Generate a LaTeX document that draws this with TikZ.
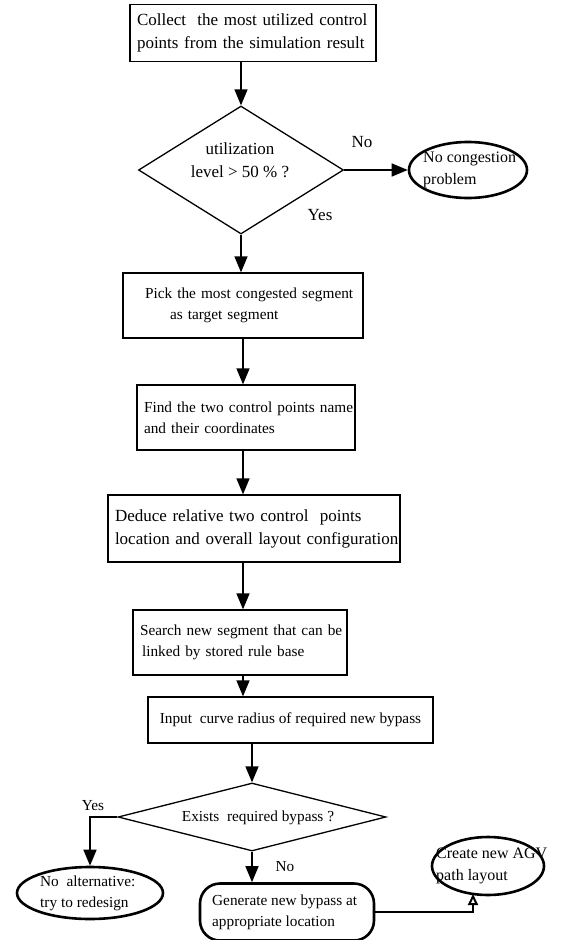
\documentclass[tikz,border=0pt]{standalone}
\usepackage{fontspec}
\setmainfont{Liberation Serif}
\usetikzlibrary{shapes.geometric,arrows.meta}
\begin{document}
\begin{tikzpicture}[x=1pt,y=-1pt,
  every node/.style={font=\fontsize{15.3}{21}\selectfont},
  big/.style={font=\fontsize{17}{23}\selectfont},
  mid/.style={font=\fontsize{16}{22}\selectfont},
  box/.style={draw, line width=1.3pt, inner xsep=7pt, inner ysep=0pt, align=left},
  dia/.style={draw, diamond, line width=1.3pt, inner sep=0pt},
  oval/.style={draw, ellipse, line width=2.6pt, inner sep=0pt},
  rbox/.style={draw, rounded corners=20pt, line width=2.6pt, inner sep=0pt},
  txt/.style={inner sep=0pt, align=left},
  arr/.style={line width=1.5pt, -{Triangle[length=16pt,width=13pt]}},
  oarr/.style={line width=1.5pt, -{Triangle[open,length=11pt,width=10pt,line width=2pt]}},
  lbl/.style={inner sep=0pt}
]
\useasboundingbox (0,0) rectangle (570,940);

% process boxes
\node[box, big, minimum width=246pt, minimum height=57pt, text width=232pt] (b1) at (253,33)
  {\mbox{Collect\ \ the most utilized control}\\\mbox{points from the simulation result}};
\node[dia, minimum width=205pt, minimum height=128pt] (d1) at (241,170) {};
\node[txt, big, align=center] (d1t) at (240,160) {utilization\\level > 50 \% ?};
\node[oval, minimum width=118pt, minimum height=56pt] (e1) at (468,170) {};
\node[txt, mid, anchor=west] (e1t) at (423,170) {No congestion\\problem};

\node[box, minimum width=240pt, minimum height=65pt, text width=226pt] (b2) at (243,305.5)
  {\mbox{\hspace*{15pt}Pick the most congested segment}\\\mbox{\hspace*{40pt}as target segment}};
\node[box, minimum width=218pt, minimum height=65pt, text width=204pt] (b3) at (246,417.5)
  {\mbox{Find the two control points name}\\\mbox{and their coordinates}};
\node[box, big, minimum width=292pt, minimum height=67pt, text width=278pt] (b4) at (254,528.5)
  {\mbox{Deduce relative two control\ \ points}\\\mbox{location and overall layout configuration}};
\node[box, minimum width=214pt, minimum height=65pt, text width=200pt] (b5) at (240,642.5)
  {\mbox{Search new segment that can be}\\\mbox{\hspace*{2pt}linked by stored rule base}};
\node[box, minimum width=285pt, minimum height=46pt, align=center] (b6) at (290.5,720)
  {Input\ \ curve radius of required new bypass};

\node[dia, minimum width=268pt, minimum height=68pt] (d2) at (252,817) {};
\node[txt] (d2t) at (258,818) {Exists\ \ required bypass ?};

\node[oval, minimum width=146pt, minimum height=52pt] (e2) at (90,893) {};
\node[txt, anchor=west] (e2t) at (40,893) {No\ \ alternative:\\try to redesign};

\node[rbox, minimum width=174pt, minimum height=57pt] (gen) at (287,912) {};
\node[txt, anchor=west] (gent) at (212,912) {Generate new bypass at\\appropriate location};

\node[oval, minimum width=112pt, minimum height=58pt] (e3) at (488,866) {};
\node[txt, mid, anchor=west] (e3t) at (436,866) {Create new AGV\\path layout};

% labels
\node[lbl, big] (no1) at (362,142) {No};
\node[lbl, big] (yes1) at (320,215) {Yes};
\node[lbl] (yes2) at (93,806) {Yes};
\node[lbl] (no2) at (285,867) {No};

% connectors
\draw[arr] (b1.south -| d1.north) -- (d1.north);
\draw[arr] (d1.east) -- (e1.west);
\draw[arr] (d1.south) -- (d1.south |- b2.north);
\draw[arr] (b2.south) -- (b2.south |- b3.north);
\draw[arr] (b3.south -| b2.south) -- (b2.south |- b4.north);
\draw[arr] (b4.south -| b2.south) -- (b2.south |- b5.north);
\draw[arr] (b5.south -| b2.south) -- (b2.south |- b6.north);
\draw[arr] (b6.south -| d2.north) -- (d2.north);
\draw[arr] (d2.west) -| (e2.north);
\draw[arr] (d2.south) -- (d2.south |- gen.north);
\coordinate (e3in) at (473,894);
\draw[oarr] (gen.east) -| (e3in);
\end{tikzpicture}
\end{document}
